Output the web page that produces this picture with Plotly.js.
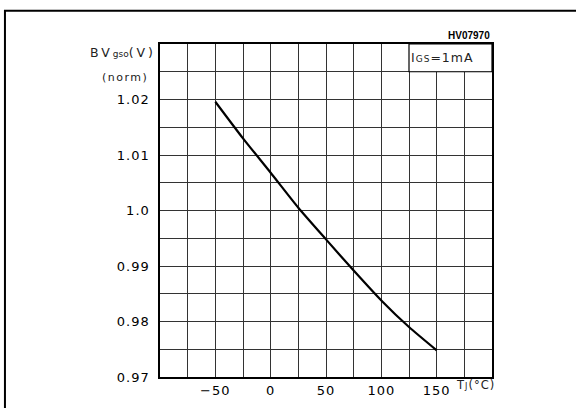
<!DOCTYPE html>
<html>
<head>
<meta charset="utf-8">
<script src="https://cdn.plot.ly/plotly-3.0.1.min.js"></script>
<style>
html,body{margin:0;padding:0;background:#fff;}
#chart{width:576px;height:408px;}
.xtick text, .ytick text{letter-spacing:1px;}
</style>
</head>
<body>
<div id="chart"></div>
<script>
// Junction temperature (°C)
const tempC = [-50, -25, 0, 25, 50, 75, 100, 125, 150];
// Normalized gate-source breakdown voltage
const bvNorm = [1.0196, 1.0130, 1.0068, 1.0005, 0.9948, 0.9892, 0.9838, 0.9790, 0.9748];

const xTickVals = [-100, -75, -50, -25, 0, 25, 50, 75, 100, 125, 150, 175, 200];
const xTickText = ['', '', '\u221250', '', '0', '', '50', '', '100', '', '150', '', ''];
const yTickVals = [0.97, 0.975, 0.98, 0.985, 0.99, 0.995, 1.0, 1.005, 1.01, 1.015, 1.02, 1.025, 1.03];
const yTickText = ['0.97', '', '0.98', '', '0.99', '', '1.0', '', '1.01', '', '1.02', '', ''];

const trace = {
  x: tempC, y: bvNorm, type: 'scatter', mode: 'lines',
  line: {color: '#000', width: 2.2, shape: 'spline', smoothing: 0.6},
  hoverinfo: 'skip', showlegend: false
};

const gridCol = '#333';
const thin = 'DejaVu Sans, sans-serif';
const layout = {
  width: 576, height: 408,
  margin: {l: 160, r: 84, t: 43.5, b: 31.3},
  paper_bgcolor: '#fff', plot_bgcolor: '#fff',
  font: {family: 'DejaVu Sans, Verdana, sans-serif', color: '#000', size: 12},
  xaxis: {
    range: [-100, 200], tickmode: 'array', tickvals: xTickVals, ticktext: xTickText,
    showgrid: true, gridcolor: gridCol, gridwidth: 1,
    showline: true, linecolor: '#000', linewidth: 1.6, mirror: true,
    zeroline: false, ticks: '', ticklabelstandoff: 1,
    tickfont: {size: 13}
  },
  yaxis: {
    range: [0.97, 1.03], tickmode: 'array', tickvals: yTickVals, ticktext: yTickText,
    showgrid: true, gridcolor: gridCol, gridwidth: 1,
    showline: true, linecolor: '#000', linewidth: 1.6, mirror: true,
    zeroline: false, ticks: '', ticklabelstandoff: 6,
    tickfont: {size: 13}
  },
  shapes: [
    {type: 'rect', xref: 'x', yref: 'y', x0: 125, x1: 200, y0: 1.025, y1: 1.03,
     fillcolor: '#fff', line: {color: '#000', width: 1.2}, layer: 'above'},
    {type: 'path', xref: 'paper', yref: 'paper',
     path: 'M -0.467 -0.2 L -0.467 1.1 L 1.4 1.1',
     line: {color: '#000', width: 2}}
  ],
  annotations: [
    {xref: 'x', yref: 'paper', x: 200, y: 1.0, xanchor: 'right', yanchor: 'bottom', yshift: 1,
     text: '<b>HV07970</b>', showarrow: false,
     font: {family: 'Liberation Sans, Arial, sans-serif', size: 10, color: '#000'}},
    {xref: 'x', yref: 'y', x: 155, y: 1.0275, xanchor: 'center', yanchor: 'middle',
     text: '<span style="letter-spacing:1px">I<span style="font-size:9px">GS</span>=1mA</span>', showarrow: false,
     font: {family: thin, size: 12.5, color: '#222'}},
    {xref: 'paper', yref: 'y', x: 0, xshift: -2, y: 1.0285, xanchor: 'right', yanchor: 'middle',
     text: '<span style="letter-spacing:3px">BV<span style="font-size:9px;letter-spacing:0px">gso</span>(V)</span>', showarrow: false,
     font: {family: thin, size: 12.5, color: '#222'}},
    {xref: 'paper', yref: 'y', x: 0, xshift: -10, y: 1.0240, xanchor: 'right', yanchor: 'middle',
     text: '<span style="letter-spacing:1.5px">(norm)</span>', showarrow: false,
     font: {family: thin, size: 11, color: '#222'}},
    {xref: 'x', yref: 'paper', x: 166, y: 0, yshift: -8, xanchor: 'left', yanchor: 'middle',
     text: '<span style="letter-spacing:1px">T<span style="font-size:8px">J</span>(\u00B0C)</span>', showarrow: false,
     font: {family: thin, size: 11.5, color: '#222'}}
  ]
};

Plotly.newPlot('chart', [trace], layout, {staticPlot: true, displayModeBar: false});
</script>
</body>
</html>
